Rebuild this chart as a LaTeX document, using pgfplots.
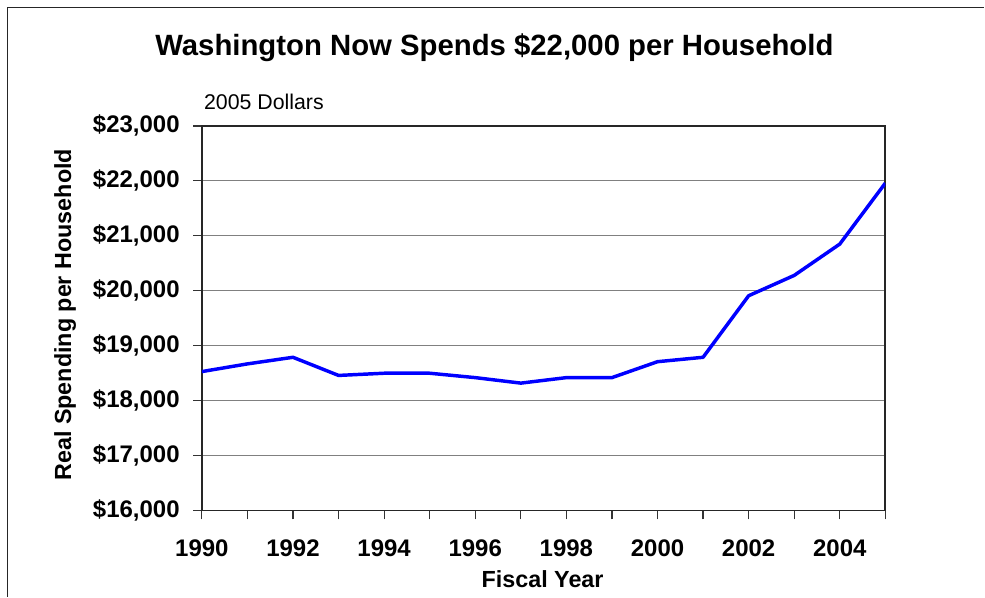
\documentclass[border=0pt]{standalone}
\usepackage{fontspec}
\setmainfont{Liberation Sans}
\usepackage{pgfplots}
\pgfplotsset{compat=1.18}

\pgfplotstableread{
year spend
1990 18530
1991 18670
1992 18790
1993 18460
1994 18500
1995 18500
1996 18420
1997 18320
1998 18420
1999 18420
2000 18710
2001 18790
2002 19910
2003 20280
2004 20850
2005 21960
}\spending

\begin{document}
\begin{tikzpicture}
\begin{axis}[
  scale only axis,
  width=513pt, height=288.75pt,
  clip mode=individual,
  xmin=1990, xmax=2005,
  ymin=16000, ymax=23000,
  xtick={1990,1992,...,2004},
  minor xtick={1991,1993,...,2005},
  ytick={16000,17000,...,23000},
  scaled y ticks=false,
  tick pos=left,
  tick align=outside,
  major tick length=6.5pt,
  minor tick length=6.5pt,
  tick style={black!80, line width=0.9pt},
  axis line style={black!85, line width=1.3pt},
  ymajorgrids,
  major grid style={gray, line width=0.9pt},
  /pgf/number format/assume math mode=true,
  yticklabel={\$\pgfmathprintnumber[fixed, precision=0, 1000 sep={,}]{\tick}},
  xticklabel={\pgfmathprintnumber[1000 sep={}]{\tick}},
  ticklabel style={font=\fontsize{18}{20}\selectfont\bfseries, inner sep=0pt},
  yticklabel style={anchor=east, xshift=-10pt},
  xticklabel style={anchor=north, yshift=-15pt},
  title={Washington Now Spends \$22,000 per Household},
  title style={font=\fontsize{22}{24}\selectfont\bfseries,
    at={(axis description cs:0.428,1.183)}, anchor=center, inner sep=0pt},
  xlabel={Fiscal Year},
  xlabel style={font=\fontsize{17.5}{19}\selectfont\bfseries,
    at={(axis description cs:0.4985,-0.177)}, anchor=center, inner sep=0pt},
  ylabel={Real Spending per Household},
  ylabel style={font=\fontsize{17.5}{19}\selectfont\bfseries,
    at={(axis description cs:-0.2,0.509)}, anchor=center, inner sep=0pt},
]
\addplot[blue, line width=2.6pt, line join=round] table[x=year, y=spend] {\spending};
\end{axis}
\begin{scope}[shift={(current axis.south west)}, x=0.75pt, y=-0.75pt]
  \path (-202,-511) rectangle (783,86);
  \draw[black!85, line width=1.1pt] (-194.5,86) -- (-194.5,-503.5) -- (783,-503.5);
  \node[anchor=west, inner sep=0pt, font=\fontsize{16}{18}\selectfont]
    at (2,-409) {2005 Dollars};
\end{scope}
\end{tikzpicture}
\end{document}
